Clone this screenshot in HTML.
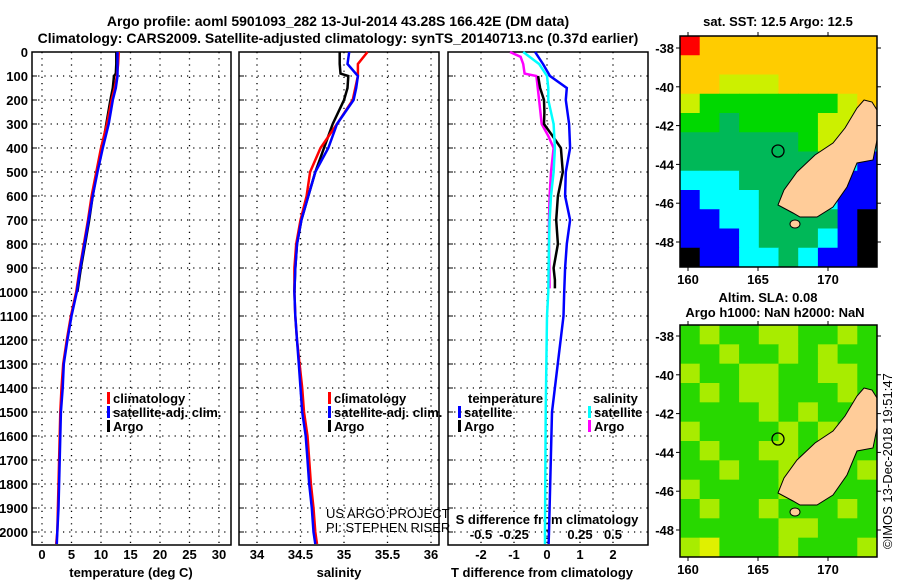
<!DOCTYPE html>
<html><head><meta charset="utf-8">
<style>
html,body{margin:0;padding:0;background:#fff;}
svg{display:block;font-family:"Liberation Sans",sans-serif;}
.b{font-weight:bold;font-size:13px;}
.n{font-weight:normal;font-size:13px;}
</style></head>
<body>
<svg id="fig" width="900" height="580" viewBox="0 0 900 580" xmlns="http://www.w3.org/2000/svg">
<text x="338" y="26" text-anchor="middle" font-weight="bold" font-size="14">Argo profile: aoml 5901093_282 13-Jul-2014 43.28S 166.42E (DM data)</text>
<text x="338" y="43" text-anchor="middle" font-weight="bold" font-size="14">Climatology: CARS2009. Satellite-adjusted climatology: synTS_20140713.nc (0.37d earlier)</text>
<g id="g1"></g>
<g id="g2"></g>
<g id="g3"></g>
<g id="m1"></g>
<g id="m2"></g>
<text transform="translate(892,549) rotate(-90)" font-size="13">©IMOS 13-Dec-2018 19:51:47</text>
</svg>
<script>
// ---- profile data ----
const depths = [0,50,100,150,200,300,400,500,600,700,800,900,1000,1100,1200,1300,1400,1500,1600,1700,1800,1900,2000,2050];
const tempClim = [13.0,12.9,12.7,12.3,11.8,11.0,10.0,9.2,8.4,7.8,7.1,6.4,5.8,4.9,4.2,3.6,3.3,3.1,3.0,2.9,2.8,2.7,2.6,2.4];
const tempSat  = [12.8,12.8,12.8,12.5,12.0,11.3,10.3,9.4,8.6,7.9,7.2,6.5,5.9,5.0,4.3,3.7,3.5,3.2,3.1,3.0,2.9,2.8,2.6,2.5];
const argoDepths = [0,50,90,100,150,200,300,400,500,600,700,800,900,1000];
const tempArgo = [12.6,12.6,12.5,12.2,12.0,11.6,10.9,10.2,9.3,8.6,8.0,7.3,6.6,6.0];
const salClim = [35.27,35.16,35.16,35.13,35.10,34.92,34.73,34.61,34.57,34.50,34.45,34.43,34.43,34.44,34.46,34.49,34.52,34.54,34.58,34.60,34.62,34.65,34.67,34.69];
const salSat  = [35.06,35.04,35.16,35.14,35.11,34.92,34.82,34.67,34.59,34.51,34.46,34.44,34.43,34.44,34.46,34.48,34.50,34.52,34.56,34.58,34.60,34.63,34.65,34.67];
const salArgo = [34.95,34.95,34.96,35.05,35.04,35.00,34.87,34.77,34.67,34.59,34.51,34.46,34.44,34.43];
const diffDepths = [0,50,100,150,200,300,400,500,600,700,800,900,1000,1100,1500,2000,2050];
const tDiffSat = [-0.36,-0.12,0.09,0.60,0.57,0.67,0.70,0.57,0.55,0.70,0.60,0.55,0.52,0.50,0.15,0.06,0.05];
const sDiffSat = [-0.18,-0.06,0.0,0.01,0.01,0.05,0.06,0.05,0.03,0.02,0.015,0.012,0.01,0.0,-0.01,-0.015,-0.015];
const argoDiffDepths = [100,150,200,250,300,350,400,500,600,700,800,900,950,985];
const tDiffArgo = [-0.27,-0.21,-0.09,-0.08,-0.09,0.17,0.42,0.48,0.33,0.28,0.33,0.20,0.24,0.24];
const sDiffArgoDepths = [0,20,50,90,100,200,300,350,400,500,600,700,800,985];
const sDiffArgo = [-0.28,-0.20,-0.18,-0.17,-0.08,-0.06,-0.04,0.01,0.05,0.03,0.02,0.015,0.015,0.02];
const depthTicks = [0,100,200,300,400,500,600,700,800,900,1000,1100,1200,1300,1400,1500,1600,1700,1800,1900,2000];
const tempTicks = [0,5,10,15,20,25,30];
const salTicks = [34,34.5,35,35.5,36];
const salTickLabels = ["34","34.5","35","35.5","36"];
const tDiffTicks = [-2,-1,0,1,2];
const sDiffTicks = [-0.5,-0.25,0,0.25,0.5];
const sDiffTickLabels = ["-0.5","-0.25","0","0.25","0.5"];
// ---- map data (colour codes per cell) ----
const sstRows = ["RYYYYYYYYY","YYYYYYYYYY","YYLLLYYYYY","LGGGGGGGLY","GGMGGGGLLL","MMMMMMGLLC","MMMMMMMGCB","CCCMMMMMBB","BCCCMMMCBB","BBCCMMMMBK","BBBCMMMCBK","KBBCCMCBBK"];
const slaRows = ["GLGGLLGGLG","GGLGGLGLGG","LGGLLGGLLG","GLGLLGGGLG","GGGGLGLGGG","LGGGGLGLGG","GLGGLLGGGG","GGLGGLGGGL","LGGGGLGGGG","GLGGLGGGLG","GGGGGLLGGG","LYGGGLGGGL"];
const lats = [-38,-40,-42,-44,-46,-48];
const lons = [160,165,170];

const NS="http://www.w3.org/2000/svg";
function mk(parent,tag,attrs,text){const e=document.createElementNS(NS,tag);for(const k in attrs)e.setAttribute(k,attrs[k]);if(text!==undefined)e.textContent=text;parent.appendChild(e);return e;}
const Y0=52,YS=0.24;
const yD=d=>Y0+d*YS;
function pts(xs,ds,xf){return xs.map((v,i)=>xf(v).toFixed(1)+","+yD(ds[i]).toFixed(1)).join(" ");}

function panel(g,x0,x1,gridXs){
  for(const d of depthTicks){ if(d===0)continue;
    const l=mk(g,'line',{x1:x0,x2:x1,y1:yD(d),y2:yD(d),stroke:'#000','stroke-dasharray':'1.2,5','stroke-width':1.3});
    
    
    mk(g,'line',{x1:x0,x2:x0+5,y1:yD(d),y2:yD(d),stroke:'#000'});
  }
  for(const x of gridXs){
    const l=mk(g,'line',{x1:x,x2:x,y1:Y0,y2:545,stroke:'#000','stroke-dasharray':'1.2,5','stroke-width':1.3});
    
    
  }
  const r=mk(g,'rect',{x:x0,y:Y0,width:x1-x0,height:545-Y0,fill:'none',stroke:'#000','stroke-width':1.5});
  
  
}
function line(g,p,color,name,w){const e=mk(g,'polyline',{points:p,fill:'none',stroke:color,'stroke-width':w||2.5,'stroke-linejoin':'miter'});
  
  }
function txt(g,x,y,s,name,anchor,cls){const e=mk(g,'text',{x:x,y:y,'text-anchor':anchor||'start','class':cls||'b'},s);
  
  return e;}
function legend(g,x,y,color,label,name){mk(g,'rect',{x:x,y:y-11,width:3,height:12,fill:color});txt(g,x+6,y,label,name);}

// panel 1 temperature
const g1=document.getElementById('g1');
const xT=v=>42+v*5.9;
panel(g1,32,231,tempTicks.map(xT));
for(const d of depthTicks) txt(g1,28,yD(d)+5,String(d),'depth-tick-label','end');
for(const v of tempTicks) txt(g1,xT(v),559,String(v),'temperature-tick-label','middle');
txt(g1,131,577,'temperature (deg C)','x-axis-title-temperature','middle');
line(g1,pts(tempArgo,argoDepths,xT),'#000','argo-temperature-line');
line(g1,pts(tempClim,depths,xT),'#f00','climatology-temperature-line');
line(g1,pts(tempSat,depths,xT),'#00f','satellite-temperature-line');
legend(g1,107,403,'#f00','climatology','legend-climatology');
legend(g1,107,417,'#00f','satellite-adj. clim.','legend-satellite');
legend(g1,107,431,'#000','Argo','legend-argo');

// panel 2 salinity
const g2=document.getElementById('g2');
const xS=v=>257+(v-34)*87;
panel(g2,239,439,salTicks.map(xS));
salTicks.forEach((v,i)=>txt(g2,xS(v),559,salTickLabels[i],'salinity-tick-label','middle'));
txt(g2,339,577,'salinity','x-axis-title-salinity','middle');
line(g2,pts(salArgo,argoDepths,xS),'#000','argo-salinity-line');
line(g2,pts(salClim,depths,xS),'#f00','climatology-salinity-line');
line(g2,pts(salSat,depths,xS),'#00f','satellite-salinity-line');
legend(g2,328,403,'#f00','climatology','legend-climatology');
legend(g2,328,417,'#00f','satellite-adj. clim.','legend-satellite');
legend(g2,328,431,'#000','Argo','legend-argo');
txt(g2,326,518,'US ARGO PROJECT','project-label','start','n');
txt(g2,326,532,'PI: STEPHEN RISER','pi-label','start','n');

// panel 3 differences
const g3=document.getElementById('g3');
const xTd=v=>547+v*33, xSd=v=>547+v*132;
panel(g3,448,648,tDiffTicks.map(xTd));
for(const v of tDiffTicks) txt(g3,xTd(v),559,String(v),'t-diff-tick-label','middle');
sDiffTicks.forEach((v,i)=>txt(g3,xSd(v),539,sDiffTickLabels[i],'s-diff-tick-label','middle'));
txt(g3,547,524,'S difference from climatology','s-diff-axis-title','middle');
txt(g3,542,577,'T difference from climatology','t-diff-axis-title','middle');
line(g3,pts(sDiffArgo,sDiffArgoDepths,xSd),'#f0f','argo-salinity-diff-line');
line(g3,pts(tDiffArgo,argoDiffDepths,xTd),'#000','argo-temperature-diff-line');
line(g3,pts(sDiffSat,diffDepths,xSd),'#0ff','satellite-salinity-diff-line');
line(g3,pts(tDiffSat,diffDepths,xTd),'#00f','satellite-temperature-diff-line');
txt(g3,468,403,'temperature','legend-temperature-heading');
legend(g3,458,417,'#00f','satellite','legend-t-satellite');
legend(g3,458,431,'#000','Argo','legend-t-argo');
txt(g3,593,403,'salinity','legend-salinity-heading');
legend(g3,588,417,'#0ff','satellite','legend-s-satellite');
legend(g3,588,431,'#f0f','Argo','legend-s-argo');

// maps
const colors={R:'#ff0000',Y:'#ffcc00',L:'#ccf000',G:'#00d800',M:'#00b858',C:'#00ffff',B:'#0000ff',K:'#000000'};
const slaColors={G:'#28d800',L:'#a8ec00',Y:'#e0f000'};
const land=[[864,100],[872,102],[877,110],[877,140],[873,160],[857,163],[847,187],[833,207],[817,217],[800,217],[793,213],[778,205],[784,190],[797,172],[815,155],[833,143],[845,128],[857,108]];
function map(g,top,bottom,rows,cmap,lat38){
  const x0=680,x1=877,cw=(x1-x0)/rows[0].length,ch=(bottom-top)/rows.length;
  rows.forEach((row,r)=>{for(let c=0;c<row.length;c++){
    const e=mk(g,'rect',{x:x0+c*cw,y:top+r*ch,width:cw+0.5,height:ch+0.5,fill:cmap[row[c]]});
    
    }});
  const off=lat38-48;
  const p=mk(g,'polygon',{points:land.map(q=>q[0]+','+(q[1]+off)).join(' '),fill:'#ffcc99',stroke:'#000','stroke-width':1});
  
  
  mk(g,'ellipse',{cx:795,cy:224+off,rx:5,ry:4,fill:'#ffcc99',stroke:'#000'});
  const ci=mk(g,'circle',{cx:778,cy:151+off,r:6,fill:'none',stroke:'#000','stroke-width':1.3});
  
  
  const fr=mk(g,'rect',{x:x0,y:top,width:x1-x0,height:bottom-top,fill:'none',stroke:'#000','stroke-width':1.5});
  
  
  for(const la of lats){const y=lat38+(-38-la)*19.4;
    mk(g,'line',{x1:x0-4,x2:x0,y1:y,y2:y,stroke:'#000'});mk(g,'line',{x1:x1,x2:x1+4,y1:y,y2:y,stroke:'#000'});
    txt(g,674,y+5,String(la),'latitude-label','end');}
  for(const lo of lons){const x=688+(lo-160)*14;
    mk(g,'line',{x1:x,x2:x,y1:top-4,y2:top,stroke:'#000'});mk(g,'line',{x1:x,x2:x,y1:bottom,y2:bottom+4,stroke:'#000'});
    txt(g,x,bottom+17,String(lo),'longitude-label','middle');}
}
const m1=document.getElementById('m1');
map(m1,36,267,sstRows,colors,48);
txt(m1,778,26,'sat. SST: 12.5 Argo: 12.5','sst-map-title','middle');
const m2=document.getElementById('m2');
map(m2,325,557,slaRows,slaColors,336);
txt(m2,768,302,'Altim. SLA: 0.08','sla-map-title','middle');
txt(m2,775,317,'Argo h1000: NaN h2000: NaN','argo-height-label','middle');
</script>
</body></html>
